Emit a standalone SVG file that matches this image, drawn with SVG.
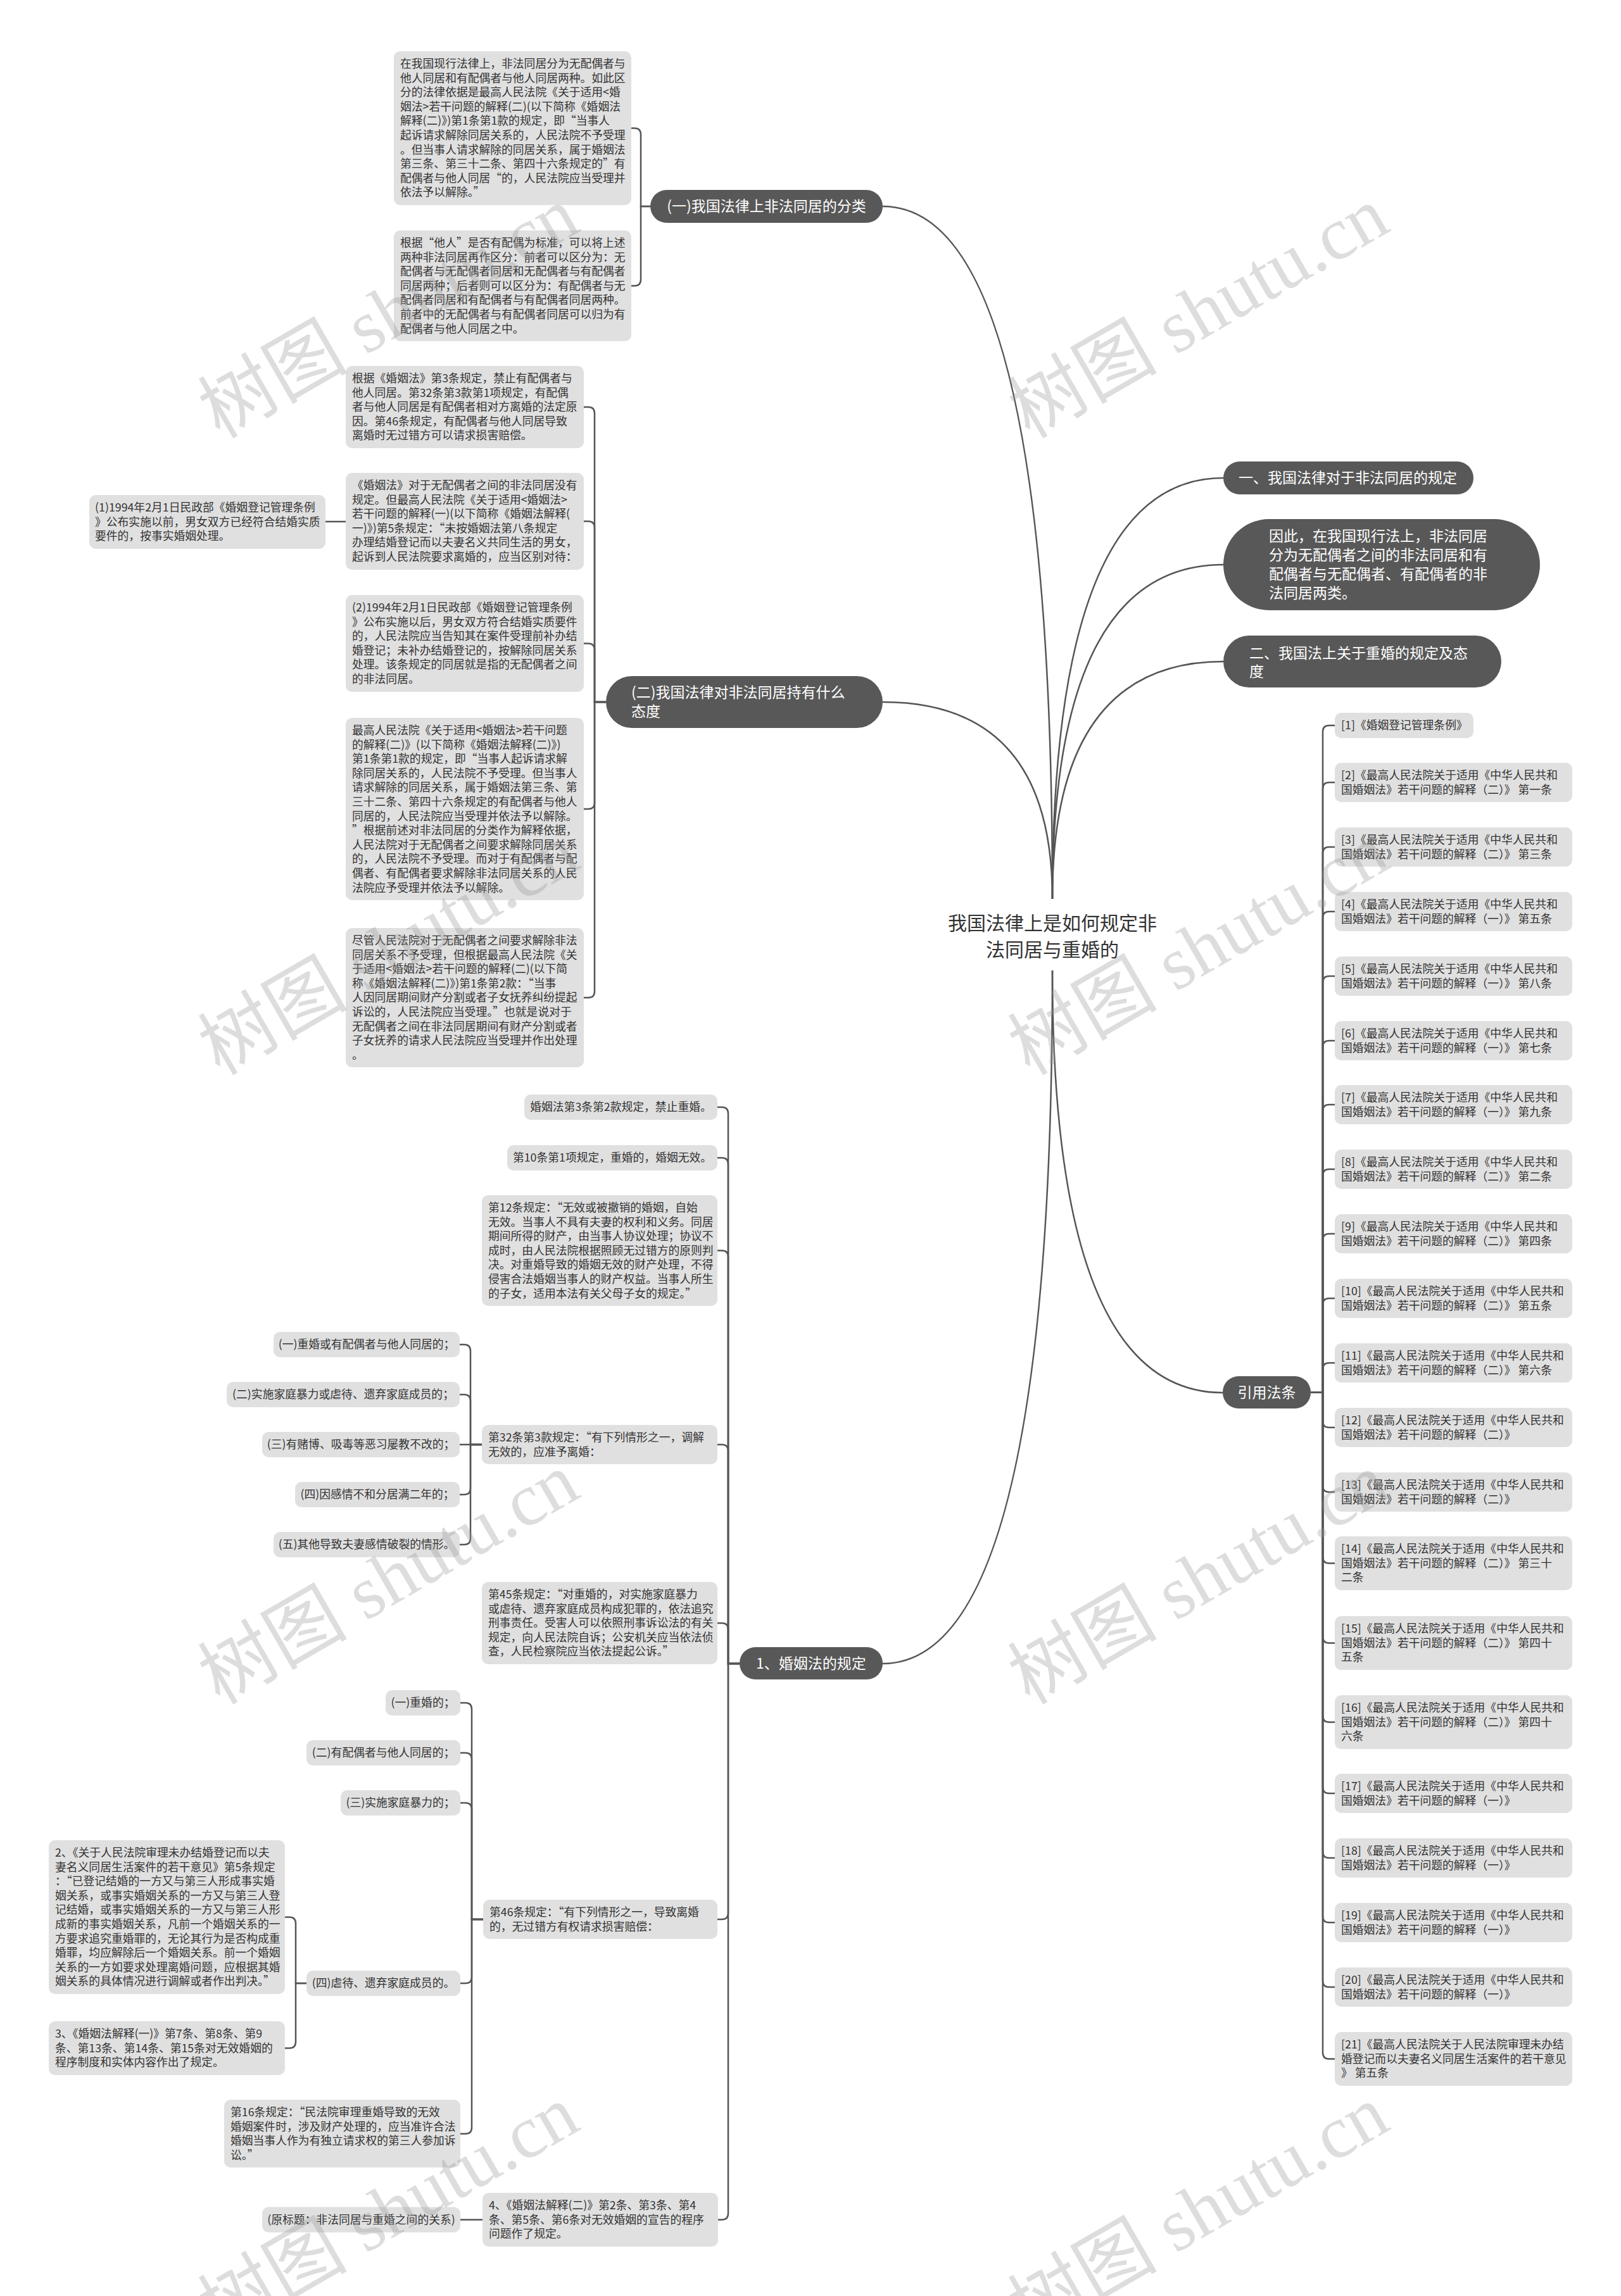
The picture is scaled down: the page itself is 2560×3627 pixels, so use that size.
<svg xmlns="http://www.w3.org/2000/svg" width="2560" height="3627" viewBox="0 0 2560 3627">
<style>
.bx{fill:#e0e0e0}
.dk{fill:#585858}
.t{font-family:"Noto Sans CJK SC","Noto Sans",sans-serif;font-size:17.8px;fill:#333}
.tw{font-family:"Noto Sans CJK SC","Noto Sans",sans-serif;font-size:23px;fill:#fff}
.tc{font-family:"Noto Sans CJK SC","Noto Sans",sans-serif;font-size:30px;fill:#333}
.ln{fill:none;stroke:#555;stroke-width:2.5}
.wm{font-family:"Liberation Serif","Noto Sans CJK SC",serif;font-size:118px;fill:#999;fill-opacity:0.33}
.mid{text-anchor:middle}
</style>
<rect x="0" y="0" width="2560" height="3627" fill="#fff"/>

<g id="connectors">
<path class="ln" d="M1662 1420 Q1662 326 1394 326"/>
<path class="ln" d="M1662 1420 Q1662 1109 1394 1109"/>
<path class="ln" d="M1662 1420 Q1662 755 1932 755"/>
<path class="ln" d="M1662 1420 Q1662 892 1932 892"/>
<path class="ln" d="M1662 1420 Q1662 1045 1932 1045"/>
<path class="ln" d="M1662 1533 Q1662 2200 1931 2200"/>
<path class="ln" d="M1662 1533 Q1662 2628 1394 2628"/>

<path class="ln" d="M1027 326 H1012 V212.5 Q1012 202.5 1002 202.5 H997"/>
<path class="ln" d="M1027 326 H1012 V441.5 Q1012 451.5 1002 451.5 H997"/>

<path class="ln" d="M957 1109 H939 V653 Q939 643 929 643 H922"/>
<path class="ln" d="M957 1109 H939 V833.5 Q939 823.5 929 823.5 H922"/>
<path class="ln" d="M957 1109 H939 V1026.5 Q939 1016.5 929 1016.5 H922"/>
<path class="ln" d="M957 1109 H939 V1268 Q939 1278 929 1278 H922"/>
<path class="ln" d="M957 1109 H939 V1566 Q939 1576 929 1576 H922"/>
<path class="ln" d="M546 824 H514"/>

<path class="ln" d="M1168 2628 H1150 V1759 Q1150 1749 1140 1749 H1133"/>
<path class="ln" d="M1168 2628 H1150 V1839 Q1150 1829 1140 1829 H1133"/>
<path class="ln" d="M1168 2628 H1150 V1985.5 Q1150 1975.5 1140 1975.5 H1133"/>
<path class="ln" d="M1168 2628 H1150 V2292 Q1150 2282 1140 2282 H1133"/>
<path class="ln" d="M1168 2628 H1150 V2574 Q1150 2564 1140 2564 H1133"/>
<path class="ln" d="M1168 2628 H1150 V3022 Q1150 3032 1140 3032 H1133"/>
<path class="ln" d="M1168 2628 H1150 V3496.5 Q1150 3506.5 1140 3506.5 H1133"/>

<path class="ln" d="M761 2282 H743 V2134 Q743 2124 733 2124 H726"/>
<path class="ln" d="M761 2282 H743 V2213 Q743 2203 733 2203 H726"/>
<path class="ln" d="M761 2282 H726"/>
<path class="ln" d="M761 2282 H743 V2351 Q743 2361 733 2361 H726"/>
<path class="ln" d="M761 2282 H743 V2430 Q743 2440 733 2440 H726"/>

<path class="ln" d="M763 3032 H745 V2700 Q745 2690 735 2690 H727"/>
<path class="ln" d="M763 3032 H745 V2779 Q745 2769 735 2769 H727"/>
<path class="ln" d="M763 3032 H745 V2858 Q745 2848 735 2848 H727"/>
<path class="ln" d="M763 3032 H745 V3123 Q745 3133 735 3133 H727"/>
<path class="ln" d="M763 3032 H745 V3360.7 Q745 3370.7 735 3370.7 H727"/>

<path class="ln" d="M484 3133 H467 V3038.5 Q467 3028.5 457 3028.5 H450"/>
<path class="ln" d="M484 3133 H467 V3225.5 Q467 3235.5 457 3235.5 H450"/>

<path class="ln" d="M762 3506.5 H727"/>

<path class="ln" d="M2070 2199.5 H2089 V1156 Q2089 1146 2099 1146 H2108"/>
<path class="ln" d="M2070 2199.5 H2089 V1246 Q2089 1236 2099 1236 H2108"/>
<path class="ln" d="M2070 2199.5 H2089 V1348 Q2089 1338 2099 1338 H2108"/>
<path class="ln" d="M2070 2199.5 H2089 V1450 Q2089 1440 2099 1440 H2108"/>
<path class="ln" d="M2070 2199.5 H2089 V1552 Q2089 1542 2099 1542 H2108"/>
<path class="ln" d="M2070 2199.5 H2089 V1654 Q2089 1644 2099 1644 H2108"/>
<path class="ln" d="M2070 2199.5 H2089 V1755 Q2089 1745 2099 1745 H2108"/>
<path class="ln" d="M2070 2199.5 H2089 V1857 Q2089 1847 2099 1847 H2108"/>
<path class="ln" d="M2070 2199.5 H2089 V1959 Q2089 1949 2099 1949 H2108"/>
<path class="ln" d="M2070 2199.5 H2089 V2061 Q2089 2051 2099 2051 H2108"/>
<path class="ln" d="M2070 2199.5 H2089 V2163 Q2089 2153 2099 2153 H2108"/>
<path class="ln" d="M2070 2199.5 H2089 V2245 Q2089 2255 2099 2255 H2108"/>
<path class="ln" d="M2070 2199.5 H2089 V2347 Q2089 2357 2099 2357 H2108"/>
<path class="ln" d="M2070 2199.5 H2089 V2459.5 Q2089 2469.5 2099 2469.5 H2108"/>
<path class="ln" d="M2070 2199.5 H2089 V2585.5 Q2089 2595.5 2099 2595.5 H2108"/>
<path class="ln" d="M2070 2199.5 H2089 V2710.5 Q2089 2720.5 2099 2720.5 H2108"/>
<path class="ln" d="M2070 2199.5 H2089 V2823 Q2089 2833 2099 2833 H2108"/>
<path class="ln" d="M2070 2199.5 H2089 V2925 Q2089 2935 2099 2935 H2108"/>
<path class="ln" d="M2070 2199.5 H2089 V3027 Q2089 3037 2099 3037 H2108"/>
<path class="ln" d="M2070 2199.5 H2089 V3129 Q2089 3139 2099 3139 H2108"/>
<path class="ln" d="M2070 2199.5 H2089 V3242.5 Q2089 3252.5 2099 3252.5 H2108"/>
</g>

<g id="root">
<text class="tc mid" x="1662" y="1469">我国法律上是如何规定非</text>
<text class="tc mid" x="1662" y="1511">法同居与重婚的</text>
</g>

<g id="n-a">
<rect class="dk" x="1932" y="729" width="395" height="52" rx="26"/>
<text class="tw" x="1956" y="763">一、我国法律对于非法同居的规定</text>
</g>
<g id="n-b">
<rect class="dk" x="1932" y="820" width="500" height="144" rx="72"/>
<text class="tw"><tspan x="2004" y="855">因此，在我国现行法上，非法同居</tspan><tspan x="2004" y="885">分为无配偶者之间的非法同居和有</tspan><tspan x="2004" y="915">配偶者与无配偶者、有配偶者的非</tspan><tspan x="2004" y="945">法同居两类。</tspan></text>
</g>
<g id="n-c">
<rect class="dk" x="1932" y="1004" width="439" height="82" rx="41"/>
<text class="tw"><tspan x="1973" y="1040">二、我国法上关于重婚的规定及态</tspan><tspan x="1973" y="1069">度</tspan></text>
</g>
<g id="n-refs">
<rect class="dk" x="1931" y="2174" width="139" height="51" rx="25"/>
<text class="tw mid" x="2000.5" y="2208">引用法条</text>
</g>
<g id="n-e">
<rect class="dk" x="1027" y="300" width="367" height="52" rx="26"/>
<text class="tw mid" x="1210.5" y="334">(一)我国法律上非法同居的分类</text>
</g>
<g id="n-f">
<rect class="dk" x="957" y="1068" width="437" height="82" rx="41"/>
<text class="tw"><tspan x="997" y="1102">(二)我国法律对非法同居持有什么</tspan><tspan x="997" y="1132">态度</tspan></text>
</g>
<g id="n-g">
<rect class="dk" x="1168" y="2602" width="226" height="51" rx="25"/>
<text class="tw mid" x="1281" y="2636">1、婚姻法的规定</text>
</g>

<g id="n-e1">
<rect class="bx" x="622" y="81" width="375" height="243" rx="10"/>
<text class="t"><tspan x="632" y="107">在我国现行法律上，非法同居分为无配偶者与</tspan><tspan x="632" y="129.6">他人同居和有配偶者与他人同居两种。如此区</tspan><tspan x="632" y="152.2">分的法律依据是最高人民法院《关于适用&lt;婚</tspan><tspan x="632" y="174.8">姻法&gt;若干问题的解释(二)(以下简称《婚姻法</tspan><tspan x="632" y="197.4">解释(二)》)第1条第1款的规定，即“当事人</tspan><tspan x="632" y="220">起诉请求解除同居关系的，人民法院不予受理</tspan><tspan x="632" y="242.6">。但当事人请求解除的同居关系，属于婚姻法</tspan><tspan x="632" y="265.2">第三条、第三十二条、第四十六条规定的”有</tspan><tspan x="632" y="287.8">配偶者与他人同居“的，人民法院应当受理并</tspan><tspan x="632" y="310.4">依法予以解除。”</tspan></text>
</g>
<g id="n-e2">
<rect class="bx" x="622" y="364" width="375" height="175" rx="10"/>
<text class="t"><tspan x="632" y="390">根据“他人”是否有配偶为标准，可以将上述</tspan><tspan x="632" y="412.6">两种非法同居再作区分：前者可以区分为：无</tspan><tspan x="632" y="435.2">配偶者与无配偶者同居和无配偶者与有配偶者</tspan><tspan x="632" y="457.8">同居两种；后者则可以区分为：有配偶者与无</tspan><tspan x="632" y="480.4">配偶者同居和有配偶者与有配偶者同居两种。</tspan><tspan x="632" y="503">前者中的无配偶者与有配偶者同居可以归为有</tspan><tspan x="632" y="525.6">配偶者与他人同居之中。</tspan></text>
</g>

<g id="n-f1">
<rect class="bx" x="546" y="578" width="376" height="130" rx="10"/>
<text class="t"><tspan x="556" y="604">根据《婚姻法》第3条规定，禁止有配偶者与</tspan><tspan x="556" y="626.6">他人同居。第32条第3款第1项规定，有配偶</tspan><tspan x="556" y="649.2">者与他人同居是有配偶者相对方离婚的法定原</tspan><tspan x="556" y="671.8">因。第46条规定，有配偶者与他人同居导致</tspan><tspan x="556" y="694.4">离婚时无过错方可以请求损害赔偿。</tspan></text>
</g>
<g id="n-f2">
<rect class="bx" x="546" y="747" width="376" height="153" rx="10"/>
<text class="t"><tspan x="556" y="773">《婚姻法》对于无配偶者之间的非法同居没有</tspan><tspan x="556" y="795.6">规定。但最高人民法院《关于适用&lt;婚姻法&gt;</tspan><tspan x="556" y="818.2">若干问题的解释(一)(以下简称《婚姻法解释(</tspan><tspan x="556" y="840.8">一)》)第5条规定：“未按婚姻法第八条规定</tspan><tspan x="556" y="863.4">办理结婚登记而以夫妻名义共同生活的男女，</tspan><tspan x="556" y="886">起诉到人民法院要求离婚的，应当区别对待：</tspan></text>
</g>
<g id="n-f2a">
<rect class="bx" x="141" y="782" width="373" height="85" rx="10"/>
<text class="t"><tspan x="150" y="808">(1)1994年2月1日民政部《婚姻登记管理条例</tspan><tspan x="150" y="830.6">》公布实施以前，男女双方已经符合结婚实质</tspan><tspan x="150" y="853.2">要件的，按事实婚姻处理。</tspan></text>
</g>
<g id="n-f3">
<rect class="bx" x="546" y="940" width="376" height="153" rx="10"/>
<text class="t"><tspan x="556" y="966">(2)1994年2月1日民政部《婚姻登记管理条例</tspan><tspan x="556" y="988.6">》公布实施以后，男女双方符合结婚实质要件</tspan><tspan x="556" y="1011.2">的，人民法院应当告知其在案件受理前补办结</tspan><tspan x="556" y="1033.8">婚登记；未补办结婚登记的，按解除同居关系</tspan><tspan x="556" y="1056.4">处理。该条规定的同居就是指的无配偶者之间</tspan><tspan x="556" y="1079">的非法同居。</tspan></text>
</g>
<g id="n-f4">
<rect class="bx" x="546" y="1134" width="376" height="288" rx="10"/>
<text class="t"><tspan x="556" y="1160">最高人民法院《关于适用&lt;婚姻法&gt;若干问题</tspan><tspan x="556" y="1182.6">的解释(二)》(以下简称《婚姻法解释(二)》)</tspan><tspan x="556" y="1205.2">第1条第1款的规定，即“当事人起诉请求解</tspan><tspan x="556" y="1227.8">除同居关系的，人民法院不予受理。但当事人</tspan><tspan x="556" y="1250.4">请求解除的同居关系，属于婚姻法第三条、第</tspan><tspan x="556" y="1273">三十二条、第四十六条规定的有配偶者与他人</tspan><tspan x="556" y="1295.6">同居的，人民法院应当受理并依法予以解除。</tspan><tspan x="556" y="1318.2">”根据前述对非法同居的分类作为解释依据，</tspan><tspan x="556" y="1340.8">人民法院对于无配偶者之间要求解除同居关系</tspan><tspan x="556" y="1363.4">的，人民法院不予受理。而对于有配偶者与配</tspan><tspan x="556" y="1386">偶者、有配偶者要求解除非法同居关系的人民</tspan><tspan x="556" y="1408.6">法院应予受理并依法予以解除。</tspan></text>
</g>
<g id="n-f5">
<rect class="bx" x="546" y="1466" width="376" height="220" rx="10"/>
<text class="t"><tspan x="556" y="1492">尽管人民法院对于无配偶者之间要求解除非法</tspan><tspan x="556" y="1514.6">同居关系不予受理，但根据最高人民法院《关</tspan><tspan x="556" y="1537.2">于适用&lt;婚姻法&gt;若干问题的解释(二)(以下简</tspan><tspan x="556" y="1559.8">称《婚姻法解释(二)》)第1条第2款：“当事</tspan><tspan x="556" y="1582.4">人因同居期间财产分割或者子女抚养纠纷提起</tspan><tspan x="556" y="1605">诉讼的，人民法院应当受理。”也就是说对于</tspan><tspan x="556" y="1627.6">无配偶者之间在非法同居期间有财产分割或者</tspan><tspan x="556" y="1650.2">子女抚养的请求人民法院应当受理并作出处理</tspan><tspan x="556" y="1672.8">。</tspan></text>
</g>

<g id="n-g1">
<rect class="bx" x="828" y="1729" width="305" height="40" rx="10"/>
<text class="t mid" x="980.5" y="1755.3">婚姻法第3条第2款规定，禁止重婚。</text>
</g>
<g id="n-g2">
<rect class="bx" x="801" y="1809" width="332" height="40" rx="10"/>
<text class="t mid" x="967" y="1835.3">第10条第1项规定，重婚的，婚姻无效。</text>
</g>
<g id="n-g3">
<rect class="bx" x="761" y="1888" width="372" height="175" rx="10"/>
<text class="t"><tspan x="771" y="1914">第12条规定：“无效或被撤销的婚姻，自始</tspan><tspan x="771" y="1936.6">无效。当事人不具有夫妻的权利和义务。同居</tspan><tspan x="771" y="1959.2">期间所得的财产，由当事人协议处理；协议不</tspan><tspan x="771" y="1981.8">成时，由人民法院根据照顾无过错方的原则判</tspan><tspan x="771" y="2004.4">决。对重婚导致的婚姻无效的财产处理，不得</tspan><tspan x="771" y="2027">侵害合法婚姻当事人的财产权益。当事人所生</tspan><tspan x="771" y="2049.6">的子女，适用本法有关父母子女的规定。”</tspan></text>
</g>
<g id="n-g4">
<rect class="bx" x="761" y="2251" width="372" height="62" rx="10"/>
<text class="t"><tspan x="771" y="2277">第32条第3款规定：“有下列情形之一，调解</tspan><tspan x="771" y="2299.6">无效的，应准予离婚：</tspan></text>
</g>
<g id="n-g4a">
<rect class="bx" x="432" y="2104" width="294" height="40" rx="10"/>
<text class="t mid" x="579" y="2130.3">(一)重婚或有配偶者与他人同居的；</text>
</g>
<g id="n-g4b">
<rect class="bx" x="358" y="2183" width="368" height="40" rx="10"/>
<text class="t mid" x="542" y="2209.3">(二)实施家庭暴力或虐待、遗弃家庭成员的；</text>
</g>
<g id="n-g4c">
<rect class="bx" x="414" y="2262" width="312" height="40" rx="10"/>
<text class="t mid" x="570" y="2288.3">(三)有赌博、吸毒等恶习屡教不改的；</text>
</g>
<g id="n-g4d">
<rect class="bx" x="466" y="2341" width="260" height="40" rx="10"/>
<text class="t mid" x="596" y="2367.3">(四)因感情不和分居满二年的；</text>
</g>
<g id="n-g4e">
<rect class="bx" x="432" y="2420" width="294" height="40" rx="10"/>
<text class="t mid" x="579" y="2446.3">(五)其他导致夫妻感情破裂的情形。</text>
</g>
<g id="n-g5">
<rect class="bx" x="761" y="2499" width="372" height="130" rx="10"/>
<text class="t"><tspan x="771" y="2525">第45条规定：“对重婚的，对实施家庭暴力</tspan><tspan x="771" y="2547.6">或虐待、遗弃家庭成员构成犯罪的，依法追究</tspan><tspan x="771" y="2570.2">刑事责任。受害人可以依照刑事诉讼法的有关</tspan><tspan x="771" y="2592.8">规定，向人民法院自诉；公安机关应当依法侦</tspan><tspan x="771" y="2615.4">查，人民检察院应当依法提起公诉。”</tspan></text>
</g>
<g id="n-g6">
<rect class="bx" x="763" y="3001" width="370" height="62" rx="10"/>
<text class="t"><tspan x="773" y="3027">第46条规定：“有下列情形之一，导致离婚</tspan><tspan x="773" y="3049.6">的，无过错方有权请求损害赔偿：</tspan></text>
</g>
<g id="n-g6a">
<rect class="bx" x="609" y="2670" width="118" height="40" rx="10"/>
<text class="t mid" x="668" y="2696.3">(一)重婚的；</text>
</g>
<g id="n-g6b">
<rect class="bx" x="484" y="2749" width="243" height="40" rx="10"/>
<text class="t mid" x="605.5" y="2775.3">(二)有配偶者与他人同居的；</text>
</g>
<g id="n-g6c">
<rect class="bx" x="538" y="2828" width="189" height="40" rx="10"/>
<text class="t mid" x="632.5" y="2854.3">(三)实施家庭暴力的；</text>
</g>
<g id="n-g6d">
<rect class="bx" x="484" y="3113" width="243" height="40" rx="10"/>
<text class="t mid" x="605.5" y="3139.3">(四)虐待、遗弃家庭成员的。</text>
</g>
<g id="n-g6d1">
<rect class="bx" x="77" y="2907" width="373" height="243" rx="10"/>
<text class="t"><tspan x="87" y="2933">2、《关于人民法院审理未办结婚登记而以夫</tspan><tspan x="87" y="2955.6">妻名义同居生活案件的若干意见》第5条规定</tspan><tspan x="87" y="2978.2">：“已登记结婚的一方又与第三人形成事实婚</tspan><tspan x="87" y="3000.8">姻关系，或事实婚姻关系的一方又与第三人登</tspan><tspan x="87" y="3023.4">记结婚，或事实婚姻关系的一方又与第三人形</tspan><tspan x="87" y="3046">成新的事实婚姻关系，凡前一个婚姻关系的一</tspan><tspan x="87" y="3068.6">方要求追究重婚罪的，无论其行为是否构成重</tspan><tspan x="87" y="3091.2">婚罪，均应解除后一个婚姻关系。前一个婚姻</tspan><tspan x="87" y="3113.8">关系的一方如要求处理离婚问题，应根据其婚</tspan><tspan x="87" y="3136.4">姻关系的具体情况进行调解或者作出判决。”</tspan></text>
</g>
<g id="n-g6d2">
<rect class="bx" x="77" y="3193" width="373" height="85" rx="10"/>
<text class="t"><tspan x="87" y="3219">3、《婚姻法解释(一)》第7条、第8条、第9</tspan><tspan x="87" y="3241.6">条、第13条、第14条、第15条对无效婚姻的</tspan><tspan x="87" y="3264.2">程序制度和实体内容作出了规定。</tspan></text>
</g>
<g id="n-g6e">
<rect class="bx" x="354" y="3317" width="373" height="107" rx="10"/>
<text class="t"><tspan x="364" y="3343">第16条规定：“民法院审理重婚导致的无效</tspan><tspan x="364" y="3365.6">婚姻案件时，涉及财产处理的，应当准许合法</tspan><tspan x="364" y="3388.2">婚姻当事人作为有独立请求权的第三人参加诉</tspan><tspan x="364" y="3410.8">讼。”</tspan></text>
</g>
<g id="n-g7">
<rect class="bx" x="762" y="3464" width="372" height="85" rx="10"/>
<text class="t"><tspan x="772" y="3490">4、《婚姻法解释(二)》第2条、第3条、第4</tspan><tspan x="772" y="3512.6">条、第5条、第6条对无效婚姻的宣告的程序</tspan><tspan x="772" y="3535.2">问题作了规定。</tspan></text>
</g>
<g id="n-g7a">
<rect class="bx" x="414" y="3486.5" width="313" height="40" rx="10"/>
<text class="t mid" x="570.5" y="3512.8">(原标题：非法同居与重婚之间的关系)</text>
</g>

<g id="r1"><rect class="bx" x="2108" y="1126" width="219" height="40" rx="10"/><text class="t" x="2118" y="1152.3">[1]《婚姻登记管理条例》</text></g>
<g id="r2"><rect class="bx" x="2108" y="1205" width="375" height="62" rx="10"/><text class="t"><tspan x="2118" y="1231">[2]《最高人民法院关于适用《中华人民共和</tspan><tspan x="2118" y="1253.6">国婚姻法》若干问题的解释（二）》 第一条</tspan></text></g>
<g id="r3"><rect class="bx" x="2108" y="1307" width="375" height="62" rx="10"/><text class="t"><tspan x="2118" y="1333">[3]《最高人民法院关于适用《中华人民共和</tspan><tspan x="2118" y="1355.6">国婚姻法》若干问题的解释（二）》 第三条</tspan></text></g>
<g id="r4"><rect class="bx" x="2108" y="1409" width="375" height="62" rx="10"/><text class="t"><tspan x="2118" y="1435">[4]《最高人民法院关于适用《中华人民共和</tspan><tspan x="2118" y="1457.6">国婚姻法》若干问题的解释（一）》 第五条</tspan></text></g>
<g id="r5"><rect class="bx" x="2108" y="1511" width="375" height="62" rx="10"/><text class="t"><tspan x="2118" y="1537">[5]《最高人民法院关于适用《中华人民共和</tspan><tspan x="2118" y="1559.6">国婚姻法》若干问题的解释（一）》 第八条</tspan></text></g>
<g id="r6"><rect class="bx" x="2108" y="1613" width="375" height="62" rx="10"/><text class="t"><tspan x="2118" y="1639">[6]《最高人民法院关于适用《中华人民共和</tspan><tspan x="2118" y="1661.6">国婚姻法》若干问题的解释（一）》 第七条</tspan></text></g>
<g id="r7"><rect class="bx" x="2108" y="1714" width="375" height="62" rx="10"/><text class="t"><tspan x="2118" y="1740">[7]《最高人民法院关于适用《中华人民共和</tspan><tspan x="2118" y="1762.6">国婚姻法》若干问题的解释（一）》 第九条</tspan></text></g>
<g id="r8"><rect class="bx" x="2108" y="1816" width="375" height="62" rx="10"/><text class="t"><tspan x="2118" y="1842">[8]《最高人民法院关于适用《中华人民共和</tspan><tspan x="2118" y="1864.6">国婚姻法》若干问题的解释（二）》 第二条</tspan></text></g>
<g id="r9"><rect class="bx" x="2108" y="1918" width="375" height="62" rx="10"/><text class="t"><tspan x="2118" y="1944">[9]《最高人民法院关于适用《中华人民共和</tspan><tspan x="2118" y="1966.6">国婚姻法》若干问题的解释（二）》 第四条</tspan></text></g>
<g id="r10"><rect class="bx" x="2108" y="2020" width="375" height="62" rx="10"/><text class="t"><tspan x="2118" y="2046">[10]《最高人民法院关于适用《中华人民共和</tspan><tspan x="2118" y="2068.6">国婚姻法》若干问题的解释（二）》 第五条</tspan></text></g>
<g id="r11"><rect class="bx" x="2108" y="2122" width="375" height="62" rx="10"/><text class="t"><tspan x="2118" y="2148">[11]《最高人民法院关于适用《中华人民共和</tspan><tspan x="2118" y="2170.6">国婚姻法》若干问题的解释（二）》 第六条</tspan></text></g>
<g id="r12"><rect class="bx" x="2108" y="2224" width="375" height="62" rx="10"/><text class="t"><tspan x="2118" y="2250">[12]《最高人民法院关于适用《中华人民共和</tspan><tspan x="2118" y="2272.6">国婚姻法》若干问题的解释（二）》</tspan></text></g>
<g id="r13"><rect class="bx" x="2108" y="2326" width="375" height="62" rx="10"/><text class="t"><tspan x="2118" y="2352">[13]《最高人民法院关于适用《中华人民共和</tspan><tspan x="2118" y="2374.6">国婚姻法》若干问题的解释（二）》</tspan></text></g>
<g id="r14"><rect class="bx" x="2108" y="2427" width="375" height="85" rx="10"/><text class="t"><tspan x="2118" y="2453">[14]《最高人民法院关于适用《中华人民共和</tspan><tspan x="2118" y="2475.6">国婚姻法》若干问题的解释（二）》 第三十</tspan><tspan x="2118" y="2498.2">二条</tspan></text></g>
<g id="r15"><rect class="bx" x="2108" y="2553" width="375" height="85" rx="10"/><text class="t"><tspan x="2118" y="2579">[15]《最高人民法院关于适用《中华人民共和</tspan><tspan x="2118" y="2601.6">国婚姻法》若干问题的解释（二）》 第四十</tspan><tspan x="2118" y="2624.2">五条</tspan></text></g>
<g id="r16"><rect class="bx" x="2108" y="2678" width="375" height="85" rx="10"/><text class="t"><tspan x="2118" y="2704">[16]《最高人民法院关于适用《中华人民共和</tspan><tspan x="2118" y="2726.6">国婚姻法》若干问题的解释（二）》 第四十</tspan><tspan x="2118" y="2749.2">六条</tspan></text></g>
<g id="r17"><rect class="bx" x="2108" y="2802" width="375" height="62" rx="10"/><text class="t"><tspan x="2118" y="2828">[17]《最高人民法院关于适用《中华人民共和</tspan><tspan x="2118" y="2850.6">国婚姻法》若干问题的解释（一）》</tspan></text></g>
<g id="r18"><rect class="bx" x="2108" y="2904" width="375" height="62" rx="10"/><text class="t"><tspan x="2118" y="2930">[18]《最高人民法院关于适用《中华人民共和</tspan><tspan x="2118" y="2952.6">国婚姻法》若干问题的解释（一）》</tspan></text></g>
<g id="r19"><rect class="bx" x="2108" y="3006" width="375" height="62" rx="10"/><text class="t"><tspan x="2118" y="3032">[19]《最高人民法院关于适用《中华人民共和</tspan><tspan x="2118" y="3054.6">国婚姻法》若干问题的解释（一）》</tspan></text></g>
<g id="r20"><rect class="bx" x="2108" y="3108" width="375" height="62" rx="10"/><text class="t"><tspan x="2118" y="3134">[20]《最高人民法院关于适用《中华人民共和</tspan><tspan x="2118" y="3156.6">国婚姻法》若干问题的解释（一）》</tspan></text></g>
<g id="r21"><rect class="bx" x="2108" y="3210" width="375" height="85" rx="10"/><text class="t"><tspan x="2118" y="3236">[21]《最高人民法院关于人民法院审理未办结</tspan><tspan x="2118" y="3258.6">婚登记而以夫妻名义同居生活案件的若干意见</tspan><tspan x="2118" y="3281.2">》 第五条</tspan></text></g>

<g id="watermark">
<text class="wm" transform="translate(347,694) rotate(-30)">树图 shutu.cn</text>
<text class="wm" transform="translate(1626,694) rotate(-30)">树图 shutu.cn</text>
<text class="wm" transform="translate(347,1700) rotate(-30)">树图 shutu.cn</text>
<text class="wm" transform="translate(1626,1700) rotate(-30)">树图 shutu.cn</text>
<text class="wm" transform="translate(347,2694) rotate(-30)">树图 shutu.cn</text>
<text class="wm" transform="translate(1626,2694) rotate(-30)">树图 shutu.cn</text>
<text class="wm" transform="translate(347,3693) rotate(-30)">树图 shutu.cn</text>
<text class="wm" transform="translate(1626,3693) rotate(-30)">树图 shutu.cn</text>
</g>
</svg>
